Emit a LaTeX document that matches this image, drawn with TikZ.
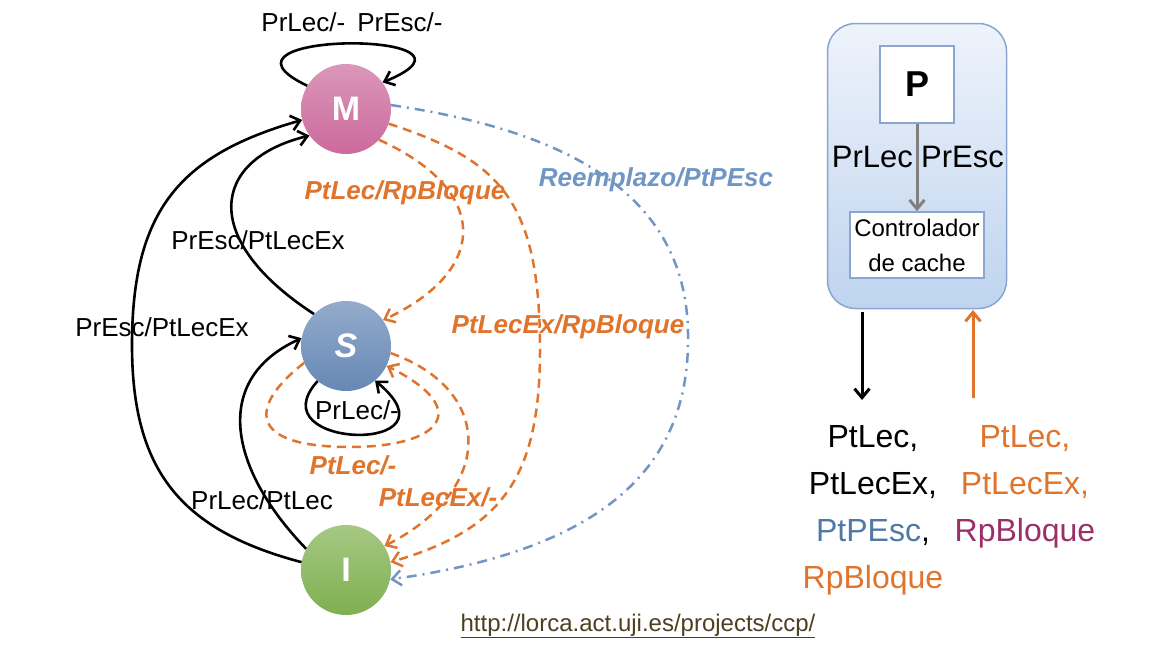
\documentclass[tikz,border=0pt]{standalone}
\usepackage{fontspec}
\setmainfont{Liberation Sans}
\usetikzlibrary{arrows.meta}
\definecolor{orng}{HTML}{E0742C}
\definecolor{blu}{HTML}{6F96C4}
\definecolor{blutxt}{HTML}{4F7AA6}
\definecolor{purp}{HTML}{9B3069}
\definecolor{pinkM}{HTML}{CC6A9C}
\definecolor{bluS}{HTML}{6688B5}
\definecolor{grnI}{HTML}{7FB04F}
\definecolor{boxline}{HTML}{8AA6CF}
\definecolor{boxtop}{HTML}{EEF3FB}
\definecolor{boxbot}{HTML}{BFD4EF}
\definecolor{urlc}{HTML}{4D3F1F}
\begin{document}
\begin{tikzpicture}[x=1pt,y=-1pt,
  state/.style={circle, minimum size=90pt, inner sep=0pt, text=white,
     font=\fontsize{34}{36}\selectfont\bfseries},
  tip/.style={-{Straight Barb[length=9pt,width=15pt]}},
  blk/.style={tip, line width=2.6pt, black},
  odash/.style={tip, line width=2.5pt, orng, dash pattern=on 9pt off 6pt},
  bdash/.style={tip, line width=2.5pt, blu, dash pattern=on 10pt off 6pt on 2pt off 6pt},
  lbl/.style={font=\fontsize{26}{28}\selectfont, inner sep=0pt},
  olbl/.style={font=\fontsize{26}{28}\selectfont\bfseries\itshape, text=orng, inner sep=0pt},
  whitebox/.style={draw=boxline, line width=1.5pt, fill=white, inner sep=0pt},
]
\useasboundingbox (0,0) rectangle (1156,648);

% states
\node[state, top color=pinkM!70!white, bottom color=pinkM] (M) at (346,109) {M};
\node[state, top color=bluS!70!white, bottom color=bluS] (S) at (346,346) {\itshape S};
\node[state, top color=grnI!70!white, bottom color=grnI] (I) at (346,570) {I};

% M self loop
\draw[blk] (M.149) .. controls (190,30) and (510,30) .. (M.36);
\node[lbl] (lM) at (352,22) {PrLec/-\hspace{12pt}PrEsc/-};

% S -> M inner
\draw[blk] (S.135) .. controls (200,240) and (210,160) .. (M.216);
\node[lbl] (lSM) at (258,240) {PrEsc/PtLecEx};

% I -> M outer
\draw[blk] (I.170) .. controls (180,530) and (132,470) .. (132,345)
   .. controls (132,210) and (180,155) .. (M.194);
\node[lbl] (lIM) at (162,327) {PrEsc/PtLecEx};

% I -> S
\draw[blk] (I.152) .. controls (230,470) and (210,380) .. (S.170);
\node[lbl] (lIS) at (262,500) {PrLec/PtLec};

% S self loop
\draw[blk] (S.231) .. controls (255,450) and (465,455) .. (S.-50);
\node[lbl] (lSS) at (357,410) {PrLec/-};

% orange S self loop
\draw[odash] (S.202) .. controls (250,405) and (245,447) .. (350,447)
   .. controls (440,447) and (475,410) .. (S.-26);
\node[olbl] (lSS2) at (353,465) {PtLec/-};

% orange S -> I
\draw[odash] (S.-9) .. controls (495,390) and (495,490) .. (I.32);
\node[olbl] (lSI) at (438,497) {PtLecEx/-};

% orange M -> S
\draw[odash] (M.-43) .. controls (490,190) and (490,270) .. (S.35);
\node[olbl] (lMS) at (405,193) {PtLec/RpBloque};

% orange M -> I
\draw[odash] (M.-19) .. controls (500,160) and (540,200) .. (540,350)
   .. controls (540,480) and (500,530) .. (I.10);
\node[olbl] (lMI) at (568,327) {PtLecEx/RpBloque};

% blue M -> I
\draw[bdash] (M.5) .. controls (560,130) and (690,190) .. (688,340)
   .. controls (688,470) and (600,550) .. (I.-12);
\node[olbl, text=blu] (lMI2) at (656,180) {Reemplazo/PtPEsc};

% URL
\node[font=\fontsize{24}{26}\selectfont, text=urlc, inner sep=0pt] (url) at (638,626) {\underline{http://lorca.act.uji.es/projects/ccp/}};

% right box
\node[draw=boxline, line width=1.5pt, rounded corners=28pt, minimum width=179pt, minimum height=285pt,
      top color=boxtop, bottom color=boxbot] (cbox) at (917,166) {};
\node[whitebox, minimum width=74pt, minimum height=77pt, font=\fontsize{36}{38}\selectfont\bfseries] (P) at (917,84.5) {P};
\node[whitebox, minimum width=134pt, minimum height=66pt, align=center,
      font=\fontsize{24}{35}\selectfont] (ctrl) at (917,245) {Controlador\\de cache};
\draw[-{Straight Barb[length=9pt,width=15pt]}, line width=3pt, gray] (P) -- (ctrl);
\node[font=\fontsize{31}{33}\selectfont, anchor=east, inner sep=0pt] (prl) at (913,157) {PrLec};
\node[font=\fontsize{31}{33}\selectfont, anchor=west, inner sep=0pt] (pre) at (921,157) {PrEsc};

\coordinate (d1) at (862,312);
\coordinate (d2) at (862,400);
\coordinate (u1) at (973,398);
\coordinate (u2) at (973,310);
\draw[blk, line width=3pt] (d1) -- (d2);
\draw[tip, line width=3pt, orng] (u1) -- (u2);

\node[align=center, font=\fontsize{32}{47}\selectfont, inner sep=0pt] (outs) at (873,510)
  {PtLec,\\PtLecEx,\\\textcolor{blutxt}{PtPEsc},\\\textcolor{orng}{RpBloque}};
\node[align=center, font=\fontsize{32}{47}\selectfont, inner sep=0pt, text=orng] (ins) at (1025,487)
  {PtLec,\\PtLecEx,\\\textcolor{purp}{RpBloque}};
\end{tikzpicture}
\end{document}
